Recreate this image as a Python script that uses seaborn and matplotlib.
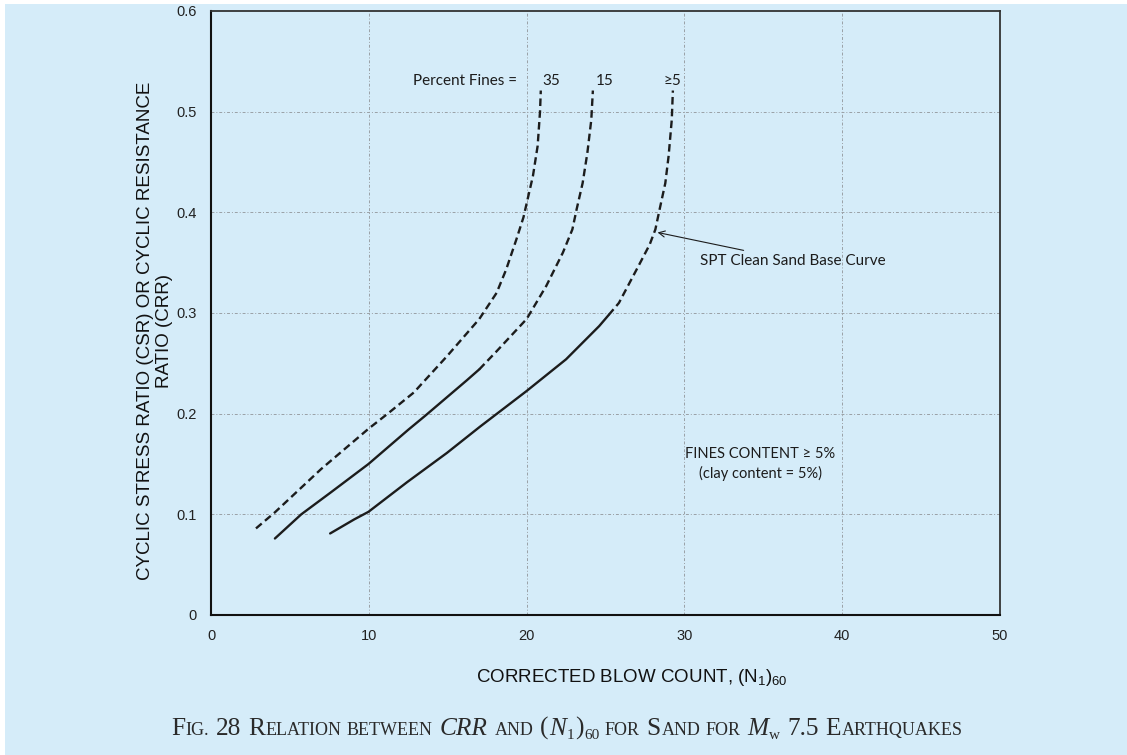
import numpy as np
import pandas as pd
import matplotlib
matplotlib.use('Agg')
import matplotlib.pyplot as plt
import matplotlib.transforms as mtransforms
import seaborn as sns
from matplotlib.patches import Rectangle

# curves: corrected blow count (N1)60 vs CRR
n_35 = [2.85, 4.05, 6.98, 9.98, 11.2, 12.85, 14.95, 17.0, 18.1, 18.7, 19.35, 19.8, 20.4, 20.7, 20.85, 20.9]
crr_35 = [0.086, 0.102, 0.145, 0.185, 0.200, 0.221, 0.257, 0.294, 0.320, 0.343, 0.373, 0.395, 0.436, 0.466, 0.500, 0.521]

n_15 = [4.05, 5.72, 7.61, 9.98, 12.5, 13.58, 16.2, 17.0, 18.1, 20.0, 21.25, 22.3, 22.9, 23.17, 23.55, 23.85, 24.1, 24.2]
crr_15 = [0.076, 0.100, 0.122, 0.150, 0.184, 0.198, 0.233, 0.244, 0.262, 0.294, 0.327, 0.360, 0.383, 0.403, 0.429, 0.459, 0.492, 0.521]

n_5 = [7.55, 9.08, 9.98, 12.43, 14.95, 17.04, 20.0, 22.5, 24.6, 25.2, 25.85, 27.1, 27.8, 28.16, 28.43, 28.79, 29.0, 29.2, 29.27]
crr_5 = [0.081, 0.095, 0.1025, 0.132, 0.161, 0.187, 0.2225, 0.254, 0.287, 0.298, 0.310, 0.347, 0.368, 0.383, 0.403, 0.429, 0.456, 0.492, 0.521]

fines_labels = ['35', '15', '\u22655']
x_ticks = [0, 10, 20, 30, 40, 50]
y_ticks = [0, 0.1, 0.2, 0.3, 0.4, 0.5, 0.6]
y_tick_labels = ['0', '0.1', '0.2', '0.3', '0.4', '0.5', '0.6']

sns.set_theme(style='white')
plt.rcParams['font.family'] = ['Liberation Sans', 'DejaVu Sans']
plt.rcParams['mathtext.default'] = 'regular'

BG = '#d5ecf9'
INK = '#1c1c1c'
W, H = 1127, 755

fig = plt.figure(figsize=(W / 100, H / 100), dpi=100)
fig.patch.set_facecolor('white')
fig.add_artist(Rectangle((5 / W, 0), 1, 1 - 4 / H, transform=fig.transFigure,
                         facecolor=BG, edgecolor='none', zorder=-10))

ax = fig.add_axes([211 / W, (H - 615) / H, 789 / W, 604 / H])
ax.set_facecolor('none')

# grid
for gx in x_ticks[1:-1]:
    ax.axvline(gx, color='#9aa0a6', lw=0.7, ls=(0, (3, 2, 1, 2)), zorder=1)
for gy in y_ticks[1:-1]:
    ax.axhline(gy, color='#9aa0a6', lw=0.7, ls=(0, (3, 2, 1, 2)), zorder=1)

# curves: solid lower part, dashed upper part
curves = [(n_35, crr_35, None), (n_15, crr_15, 17.0), (n_5, crr_5, 25.2)]
for xs, ys, solid_end in curves:
    df = pd.DataFrame({'n': xs, 'crr': ys})
    if solid_end is not None:
        solid = df[df['n'] <= solid_end]
        sns.lineplot(data=solid, x='n', y='crr', sort=False, estimator=None,
                     color=INK, lw=1.7, ax=ax, zorder=3)
        df = df[df['n'] >= solid_end]
    sns.lineplot(data=df, x='n', y='crr', sort=False, estimator=None,
                 color=INK, lw=1.7, linestyle=(0, (3.2, 1.8)), ax=ax, zorder=3)

ax.set_xlim(0, 50)
ax.set_ylim(0, 0.6)
ax.set_xticks(x_ticks)
ax.set_yticks(y_ticks)
ax.set_yticklabels(y_tick_labels)
ax.tick_params(length=0, pad=10, labelsize=10.5, colors='#222222')

for side in ['left', 'bottom']:
    ax.spines[side].set_color('#111111')
    ax.spines[side].set_linewidth(1.5)
for side in ['top', 'right']:
    ax.spines[side].set_color('#333333')
    ax.spines[side].set_linewidth(1.3)

ax.set_xlabel('CORRECTED BLOW COUNT, (N$_1$)$_{60}$', fontsize=13.5, color='#111111')
ax.xaxis.set_label_coords(0.533, -0.086)
ax.set_ylabel('CYCLIC STRESS RATIO (CSR) OR CYCLIC RESISTANCE\nRATIO (CRR)',
              fontsize=13.5, color='#111111', linespacing=1.2)
ax.yaxis.set_label_coords(-0.048, 0.47)

# annotations (Calibri-like)
afont = ['Lato', 'DejaVu Sans']
ax.text(19.4, 0.530, 'Percent Fines =', ha='right', va='center', fontsize=11, family=afont, color=INK)
for lab, lx in zip(fines_labels, [21.0, 24.4, 28.7]):
    ax.text(lx, 0.530, lab, ha='left', va='center', fontsize=11, family=afont, color=INK)

ax.annotate('SPT Clean Sand Base Curve', xy=(28.3, 0.380), xytext=(31.0, 0.352),
            ha='left', va='center', fontsize=11, family=afont, color=INK,
            arrowprops=dict(arrowstyle='->', color=INK, lw=0.8, shrinkA=0, shrinkB=0))

ax.text(34.8, 0.150, 'FINES CONTENT \u2265 5%\n(clay content = 5%)', ha='center', va='center',
        fontsize=10.5, family=afont, color=INK, linespacing=1.4)

# caption in small caps, built piece by piece in pixel coords
BIG, SMALL, SUB = 18.3, 13, 11
caption = [
    ('F', BIG, 'normal', 0), ('IG.', SMALL, 'normal', 0), (' ', BIG, 'normal', 0),
    ('28', BIG, 'normal', 0), (' ', BIG, 'normal', 0),
    ('R', BIG, 'normal', 0), ('ELATION', SMALL, 'normal', 0), (' ', SMALL, 'normal', 0),
    ('BETWEEN', SMALL, 'normal', 0), (' ', BIG, 'normal', 0),
    ('CRR', BIG, 'italic', 0), (' ', BIG, 'normal', 0),
    ('AND', SMALL, 'normal', 0), (' ', BIG, 'normal', 0),
    ('(', BIG, 'normal', 0), ('N', BIG, 'italic', 0), ('1', SUB, 'normal', -4),
    (')', BIG, 'normal', 0), ('60', SUB, 'normal', -4), (' ', SMALL, 'normal', 0),
    ('FOR', SMALL, 'normal', 0), (' ', BIG, 'normal', 0),
    ('S', BIG, 'normal', 0), ('AND', SMALL, 'normal', 0), (' ', SMALL, 'normal', 0),
    ('FOR', SMALL, 'normal', 0), (' ', BIG, 'normal', 0),
    ('M', BIG, 'italic', 0), ('w', SUB, 'normal', -4), (' ', BIG, 'normal', 0),
    ('7.5', BIG, 'normal', 0), (' ', BIG, 'normal', 0),
    ('E', BIG, 'normal', 0), ('ARTHQUAKES', SMALL, 'normal', 0),
]
renderer = fig.canvas.get_renderer()
ident = mtransforms.IdentityTransform()
pieces = []
x = 0.0
for s, size, style, dy in caption:
    if s == ' ':
        x += 0.25 * size * 100 / 72
        continue
    t = fig.text(x, 0, s, fontsize=size, style=style, family=['Liberation Serif', 'DejaVu Serif'],
                 color='#2a2a2a', transform=ident, ha='left', va='baseline')
    w = t.get_window_extent(renderer).width
    pieces.append((t, x, dy))
    x += w + 0.6
x0 = 567 - x / 2
base = H - 735
for t, px, dy in pieces:
    t.set_position((x0 + px, base + dy))

fig.savefig('out.png', dpi=100, facecolor=fig.get_facecolor())
